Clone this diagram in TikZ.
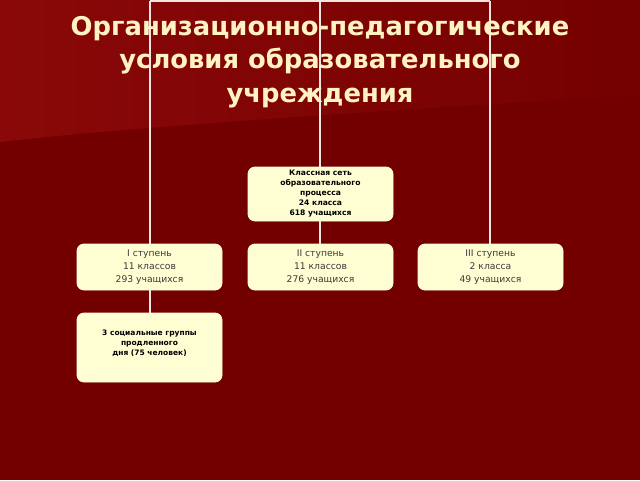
\documentclass[tikz,border=0pt]{standalone}
\usepackage{fontspec}
\setmainfont{DejaVu Sans}
\newfontfamily\titlefont{DejaVu Sans}
\usetikzlibrary{positioning}
\definecolor{bgmain}{HTML}{730000}
\definecolor{bgtop}{HTML}{8A0808}
\definecolor{boxfill}{HTML}{FFFDD2}
\definecolor{titlecol}{HTML}{FFF3C4}
\definecolor{linecol}{HTML}{F2E6E0}
\definecolor{txtcol}{HTML}{3A3A3A}
\tikzset{
  x=1pt, y=-1pt,
  orgbox/.style={draw=boxfill!80!white, line width=0.8pt, fill=boxfill, rounded corners=7pt, inner sep=0pt},
  boxtext/.style={align=center, inner sep=0pt},
  conn/.style={draw=linecol, line width=1.4pt},
}
\begin{document}
\begin{tikzpicture}
\useasboundingbox (0,0) rectangle (640,480);
\fill[bgmain] (0,0) rectangle (640,480);
\shade[left color=bgtop, right color=bgmain!92!bgtop] (0,0) -- (640,0) -- (640,95) .. controls (400,110) and (150,125) .. (0,142) -- cycle;
% connectors
\coordinate (tl) at (150,1);
\coordinate (tm) at (320,1);
\coordinate (tr) at (490,1);
\node[orgbox, minimum width=145pt, minimum height=54pt, boxtext, font=\bfseries\fontsize{7.6}{10}\selectfont, text=black] (net) at (320.5,194) {Классная сеть\\образовательного\\процесса\\24 класса\\618 учащихся};
\node[orgbox, minimum width=145pt, minimum height=46pt, boxtext, font=\fontsize{9.2}{12.6}\selectfont, text=txtcol] (s1) at (149.5,267) {I ступень\\11 классов\\293 учащихся};
\node[orgbox, minimum width=145pt, minimum height=46pt, boxtext, font=\fontsize{9.2}{12.6}\selectfont, text=txtcol] (s2) at (320.5,267) {II ступень\\11 классов\\276 учащихся};
\node[orgbox, minimum width=145pt, minimum height=46pt, boxtext, font=\fontsize{9.2}{12.6}\selectfont, text=txtcol] (s3) at (490.5,267) {III ступень\\2 класса\\49 учащихся};
\node[orgbox, minimum width=145pt, minimum height=69pt] (soc) at (149.5,347.5) {};
\node[boxtext, font=\bfseries\fontsize{7.5}{9.8}\selectfont, text=black] (soctext) at (149.5,343.5) {3 социальные группы\\продленного\\дня (75 человек)};
\draw[conn] (tl) -- (tr);
\draw[conn] (tl) -- (s1.north -| tl);
\draw[conn] (tm) -- (net.north -| tm);
\draw[conn] (tr) -- (s3.north -| tr);
\draw[conn] (net.south -| tm) -- (s2.north -| tm);
\draw[conn] (s1.south -| tl) -- (soc.north -| tl);
% title
\node[font=\titlefont\bfseries\fontsize{25.8}{33.5}\selectfont, text=titlecol, align=center] (title) at (320,62) {Организационно-педагогические\\условия образовательного\\учреждения};
\end{tikzpicture}
\end{document}
